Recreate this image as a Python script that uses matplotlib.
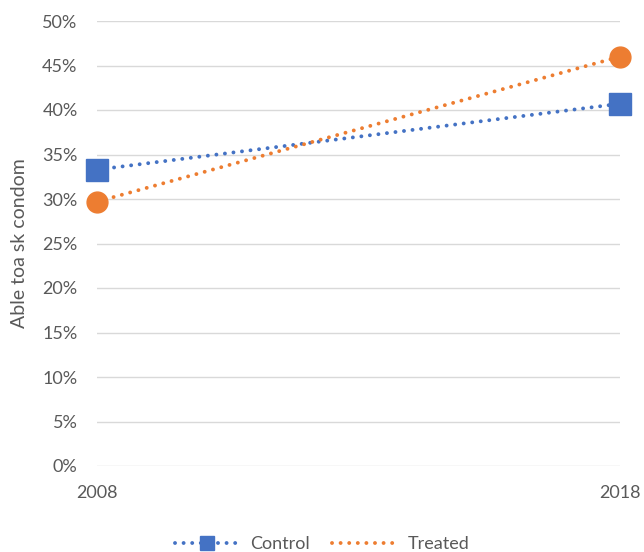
import matplotlib.pyplot as plt
from matplotlib.lines import Line2D
from matplotlib.ticker import PercentFormatter

plt.rcParams['font.family'] = ['Lato', 'DejaVu Sans']

years = ["2008", "2018"]
control = [33.3, 40.7]
treated = [29.7, 46.0]

blue = "#4472C4"
orange = "#ED7D31"
grey_txt = "#595959"
dots = (0, (0.01, 2.2))

fig = plt.figure(figsize=(6.44, 5.52), dpi=100)
ax = fig.add_axes([97 / 644, 1 - 466 / 552, 523 / 644, 445 / 552])

x = range(len(years))
ax.plot(x, control, color=blue, lw=2.8, ls=dots, dash_capstyle="round",
        marker="s", ms=15.5, mec=blue, mfc=blue, clip_on=False, zorder=3)
ax.plot(x, treated, color=orange, lw=2.8, ls=dots, dash_capstyle="round",
        marker="o", ms=15, mec=orange, mfc=orange, clip_on=False, zorder=3)

ax.set_xlim(0, 1)
ax.set_ylim(0, 50)
ax.set_yticks(range(0, 51, 5))
ax.yaxis.set_major_formatter(PercentFormatter(decimals=0))
ax.set_xticks(list(x))
ax.set_xticklabels(years)
ax.grid(axis="y", color="#d9d9d9", lw=1)
ax.set_axisbelow(True)
for s in ax.spines.values():
    s.set_visible(False)
ax.tick_params(length=0, labelsize=13, colors=grey_txt, pad=14)
ax.tick_params(axis="x", pad=14)
ax.set_ylabel("Able toa sk condom", fontsize=14, color=grey_txt, labelpad=10)

handles = [
    Line2D([], [], color=blue, lw=2.8, ls=dots, dash_capstyle="round",
           marker="s", ms=10, mfc=blue, mec=blue),
    Line2D([], [], color=orange, lw=2.8, ls=dots, dash_capstyle="round"),
]
fig.legend(handles, ["Control", "Treated"], loc="lower center",
           bbox_to_anchor=(0.5, -0.03), ncol=2, frameon=False,
           fontsize=13, labelcolor=grey_txt, handlelength=3.6,
           handletextpad=0.6, columnspacing=1.2, numpoints=1)

fig.savefig("out.png", dpi=100)
